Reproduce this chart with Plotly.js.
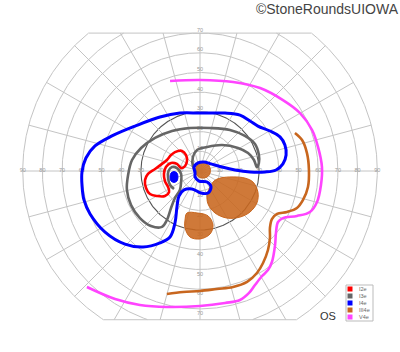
<!DOCTYPE html>
<html>
<head>
<meta charset="utf-8">
<script src="https://cdn.plot.ly/plotly-3.0.1.min.js"></script>
<style>html,body{margin:0;padding:0;background:#fff;}#chart{width:400px;height:352px;}</style>
</head>
<body>
<div id="chart"></div>
<script>
// ---- Data (degrees of eccentricity: x = horizontal, y = vertical) ----
const ringValues = [10, 20, 30, 40, 50, 60, 70, 80, 90];
const ringLabels = ["10", "20", "30", "40", "50", "60", "70", "80", "90"];
const meridianAngles = [0, 15, 30, 45, 60, 75, 90, 105, 120, 135, 150, 165, 180, 195, 210, 225, 240, 255, 270, 285, 300, 315, 330, 345];
const topLimit = 70;
const bottomLimit = -75.5;

const isopterNames = ["I2e", "I3e", "I4e", "III4e", "V4e"];
const isopterColors = ["#ff0000", "#666666", "#0000ff", "#c8661e", "#ff44ff"];

// I2e (red)
const i2eX = [-12.7, -9.1, -7.1, -6.6, -7.6, -9.6, -11.7, -14.7, -17.3, -18.3, -17.8, -16.2, -15.7, -17.8, -21.8, -25.4, -27.4, -27.9, -26.4, -22.8, -19.3, -16.8, -14.7, -12.7];
const i2eY = [9.6, 10.2, 8.1, 5.1, 2.5, 1.5, 3.6, 4.1, 2.0, -1.5, -5.1, -8.1, -10.7, -12.7, -12.7, -11.7, -8.6, -4.6, -1.5, 1.0, 3.6, 5.6, 8.1, 9.6];

// I3e (gray)
const i3eX = [-2.0, -3.6, -3.6, -1.5, 3.6, 11.2, 19.3, 24.4, 27.4, 28.9, 29.9, 29.9, 27.9, 22.8, 15.2, 5.1, -5.1, -14.2, -22.8, -29.9, -34.5, -36.5, -37.1, -35.0, -30.5, -24.9, -19.3, -16.8, -14.7, -12.7, -10.2, -9.6, -9.6, -11.7, -14.2, -16.0, -16.2, -15.2, -13.2];
const i3eY = [-0.5, 2.5, 7.1, 10.7, 12.2, 13.2, 11.7, 9.1, 5.6, 2.0, 4.1, 8.1, 13.7, 17.8, 20.8, 21.8, 21.8, 20.3, 16.8, 11.7, 5.6, -2.0, -9.6, -17.3, -23.9, -27.9, -28.4, -24.9, -18.8, -13.7, -9.6, -5.6, -1.5, 1.5, 2.0, 0.0, -3.6, -7.1, -9.1];

// I4e (blue) isopter
const i4eX = [-2.5, -3.0, -1.0, 2.0, 5.6, 11.2, 17.8, 25.4, 33.0, 38.6, 42.1, 43.7, 43.1, 40.6, 35.5, 29.4, 25.4, 20.3, 12.7, 0.0, -10.2, -20.3, -33.0, -44.7, -53.3, -57.9, -59.9, -59.9, -58.9, -55.8, -48.2, -38.1, -28.9, -20.3, -15.2, -12.7, -11.7, -10.7, -8.1, -4.1, 0.5, 4.1, 5.6, 3.6, -0.5, -2.5, -2.5];
const i4eY = [-1.0, 2.0, 4.1, 4.6, 3.6, 2.0, 0.5, -0.5, -0.5, 0.5, 3.6, 8.1, 13.2, 17.3, 20.3, 22.8, 25.4, 28.4, 29.4, 29.4, 29.4, 27.4, 22.8, 17.8, 12.7, 6.6, -0.5, -7.1, -14.7, -21.8, -31.0, -37.1, -38.6, -36.5, -33.5, -26.4, -18.3, -12.7, -9.6, -9.1, -11.2, -11.2, -8.1, -5.6, -5.1, -3.0, -1.0];
// I4e scotoma (filled)
const i4eSpotX = [-13.2, -11.7, -11.2, -11.7, -13.2, -14.7, -15.2, -14.7, -13.2];
const i4eSpotY = [-0.3, -1.0, -3.0, -5.1, -5.8, -5.1, -3.0, -1.0, -0.3];

// III4e (orange) isopter
const iii4eX = [48.2, 51.8, 54.3, 55.3, 54.8, 52.3, 49.2, 44.2, 39.1, 36.5, 35.5, 35.5, 34.5, 32.0, 28.9, 23.9, 16.8, 8.6, 0.0, -8.6, -16.8];
const iii4eY = [19.3, 15.7, 9.1, 0.5, -8.1, -14.7, -18.8, -20.8, -21.8, -24.4, -28.9, -34.0, -40.1, -46.7, -51.8, -56.3, -58.9, -59.9, -60.9, -61.4, -62.4];
// III4e scotomas (filled)
const iii4eSpotAX = [1.5, 4.3, 5.3, 4.3, 1.5, -1.3, -2.3, -1.3, 1.5];
const iii4eSpotAY = [4.1, 3.0, 0.3, -2.5, -3.6, -2.5, 0.3, 3.0, 4.1];
const iii4eSpotBX = [10.2, 16.8, 22.8, 26.9, 29.4, 28.9, 25.4, 20.3, 13.7, 7.6, 4.1, 3.6, 5.1, 7.1, 10.2];
const iii4eSpotBY = [-3.6, -3.0, -3.6, -5.6, -10.7, -16.2, -20.8, -23.4, -23.9, -21.3, -16.8, -12.2, -8.1, -5.1, -3.6];
const iii4eSpotCX = [-6.6, -1.5, 4.1, 6.6, 5.1, 0.0, -5.1, -7.6, -7.6, -6.6];
const iii4eSpotCY = [-21.3, -21.3, -22.8, -27.4, -32.0, -34.5, -33.5, -28.9, -24.9, -21.3];

// V4e (magenta) isopter
const v4eX = [-15.2, 0.0, 16.8, 30.5, 42.1, 50.8, 56.9, 59.9, 61.9, 61.4, 59.4, 55.8, 49.2, 42.1, 39.6, 38.6, 38.1, 36.5, 34.5, 31.5, 27.9, 24.9, 20.3, 12.7, 0.0, -16.8, -30.5, -43.1, -57.4];
const v4eY = [45.7, 46.2, 45.2, 42.1, 36.0, 29.4, 20.8, 12.2, 2.0, -7.1, -15.7, -20.8, -22.8, -23.9, -25.9, -31.0, -37.6, -46.2, -50.3, -53.3, -57.9, -61.9, -65.5, -67.0, -68.5, -69.0, -68.0, -65.0, -58.9];

// ---- Grid construction ----
const gridColor = "#c4c4c4";
const traces = [];
function inside(y) { return y <= topLimit + 1e-9 && y >= bottomLimit - 1e-9; }
ringValues.forEach(function (r) {
  const xs = [], ys = [];
  let prevIn = null;
  for (let a = 0; a <= 360; a += 0.25) {
    const t = a * Math.PI / 180;
    const x = r * Math.cos(t), y = r * Math.sin(t);
    const ok = inside(y);
    if (ok) { xs.push(x); ys.push(y); }
    else if (prevIn) { xs.push(null); ys.push(null); }
    prevIn = ok;
  }
  traces.push({
    x: xs, y: ys, type: "scatter", mode: "lines", hoverinfo: "skip",
    line: { color: r === 30 ? "#555555" : gridColor, width: r === 30 ? 1.1 : 1 }
  });
});
// meridians
(function () {
  const xs = [], ys = [];
  meridianAngles.forEach(function (a) {
    const t = a * Math.PI / 180;
    const s = Math.sin(t), c = Math.cos(t);
    let rmax = ringValues[ringValues.length - 1];
    if (s > 1e-9) rmax = Math.min(rmax, topLimit / s);
    if (s < -1e-9) rmax = Math.min(rmax, bottomLimit / s);
    xs.push(0, rmax * c, null); ys.push(0, rmax * s, null);
  });
  traces.push({ x: xs, y: ys, type: "scatter", mode: "lines", hoverinfo: "skip", line: { color: gridColor, width: 1 } });
})();
// chords (top and bottom limits)
(function () {
  const R = ringValues[ringValues.length - 1];
  const wt = Math.sqrt(R * R - topLimit * topLimit);
  const wb = Math.sqrt(R * R - bottomLimit * bottomLimit);
  traces.push({ x: [-wt, wt, null, -wb, wb], y: [topLimit, topLimit, null, bottomLimit, bottomLimit],
    type: "scatter", mode: "lines", hoverinfo: "skip", line: { color: gridColor, width: 1 } });
})();
// ring labels
(function () {
  const xs = [], ys = [], tx = [];
  ringValues.forEach(function (r, i) {
    xs.push(r, -r); ys.push(0, 0); tx.push(ringLabels[i], ringLabels[i]);
    if (r <= topLimit) { xs.push(0); ys.push(r + 1.5); tx.push(ringLabels[i]); }
    if (r <= -bottomLimit - 3) { xs.push(0); ys.push(-r - 2.5); tx.push(ringLabels[i]); }
  });
  traces.push({ x: xs, y: ys, text: tx, type: "scatter", mode: "text", hoverinfo: "skip",
    textfont: { family: "Liberation Sans, Arial, sans-serif", size: 5.5, color: "#9a9a9a" } });
})();

// ---- Isopters ----
const orangeFill = "rgba(200,102,30,0.88)";
function spot(xs, ys, color, fill) {
  traces.push({ x: xs, y: ys, type: "scatter", mode: "lines", fill: "toself", fillcolor: fill,
    hoverinfo: "skip", line: { color: color, width: 1, shape: "spline", smoothing: 1 } });
}
function iso(xs, ys, color, w) {
  traces.push({ x: xs, y: ys, type: "scatter", mode: "lines", hoverinfo: "skip",
    line: { color: color, width: w, shape: "spline", smoothing: 1 } });
}
spot(iii4eSpotAX, iii4eSpotAY, isopterColors[3], orangeFill);
spot(iii4eSpotBX, iii4eSpotBY, isopterColors[3], orangeFill);
spot(iii4eSpotCX, iii4eSpotCY, isopterColors[3], orangeFill);
iso(v4eX, v4eY, isopterColors[4], 2.6);
iso(iii4eX, iii4eY, isopterColors[3], 2.6);
iso(i3eX, i3eY, isopterColors[1], 2.6);
iso(i4eX, i4eY, isopterColors[2], 3);
iso(i2eX, i2eY, isopterColors[0], 2.6);
spot(i4eSpotX, i4eSpotY, isopterColors[2], isopterColors[2]);

// ---- Legend (manual, compact) ----
const shapes = [{ type: "rect", xref: "paper", yref: "paper", x0: 346 / 400, x1: 373 / 400,
  y0: 1 - 321 / 352, y1: 1 - 285 / 352, line: { color: "#bbbbbb", width: 1 }, fillcolor: "#ffffff" }];
const annotations = [];
isopterNames.forEach(function (n, i) {
  const yc = 289 + i * 7;
  shapes.push({ type: "rect", xref: "paper", yref: "paper", x0: 347.5 / 400, x1: 352.5 / 400,
    y0: 1 - (yc + 2.5) / 352, y1: 1 - (yc - 2.5) / 352, line: { width: 0 }, fillcolor: isopterColors[i] });
  annotations.push({ xref: "paper", yref: "paper", x: 357 / 400, y: 1 - yc / 352, xanchor: "left", yanchor: "middle",
    text: n, showarrow: false, font: { family: "Liberation Sans, Arial, sans-serif", size: 5.5, color: "#666666" } });
});
annotations.push({ xref: "paper", yref: "paper", x: 328 / 400, y: 1 - 316 / 352, xanchor: "center", yanchor: "middle",
  text: "OS", showarrow: false, font: { family: "Liberation Sans, Arial, sans-serif", size: 11, color: "#333333" } });

const layout = {
  width: 400, height: 352,
  margin: { l: 0, r: 0, t: 0, b: 0 },
  paper_bgcolor: "#ffffff", plot_bgcolor: "#ffffff",
  showlegend: false,
  title: { text: "©StoneRoundsUIOWA", x: 0.995, xanchor: "right", y: 1 - 9.5 / 352, yanchor: "middle",
    font: { family: "Liberation Sans, Arial, sans-serif", size: 14, color: "#444444" } },
  xaxis: { range: [-101.52, 101.52], visible: false, fixedrange: true },
  yaxis: { range: [-91.88, 86.80], visible: false, fixedrange: true },
  shapes: shapes,
  annotations: annotations
};
Plotly.newPlot("chart", traces, layout, { staticPlot: true, displayModeBar: false });
</script>
</body>
</html>
